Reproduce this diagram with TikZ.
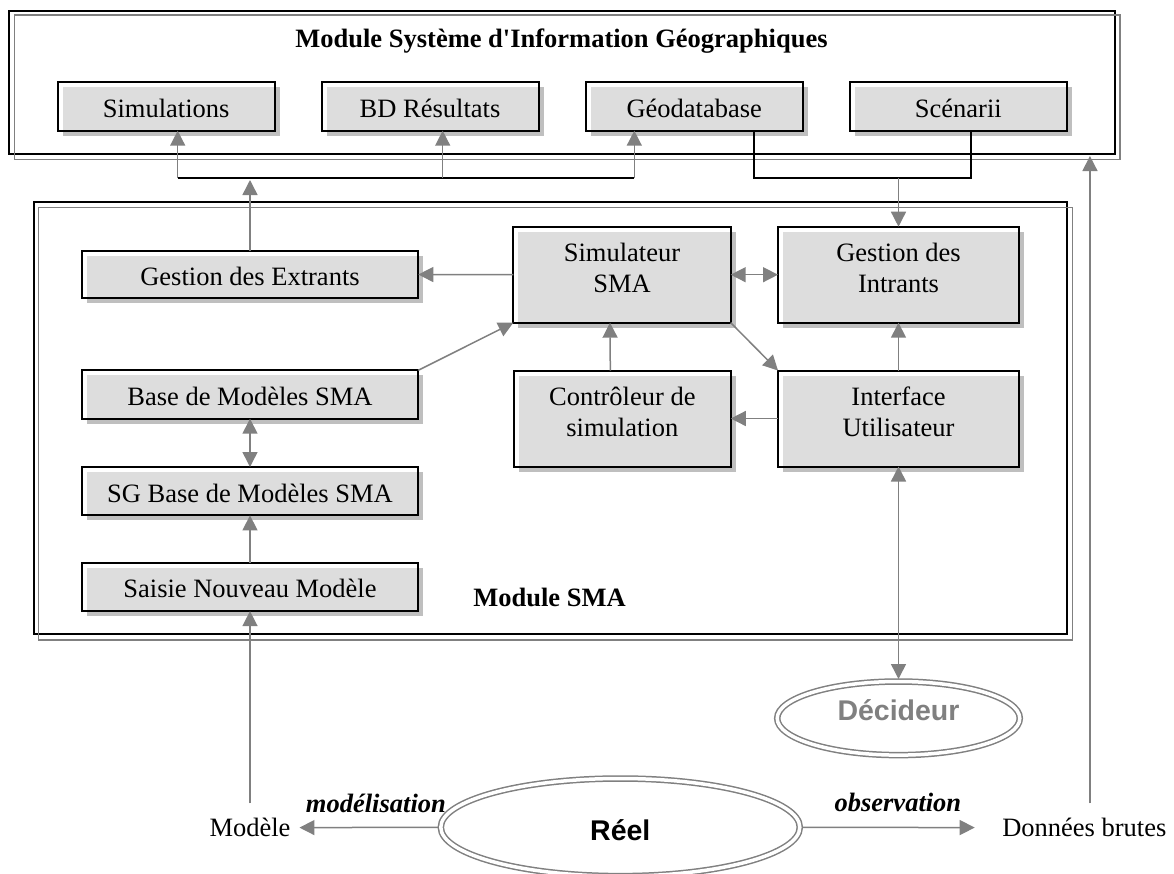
\documentclass[tikz,border=0pt]{standalone}
\usepackage{fontspec}
\setmainfont{Liberation Serif}
\newfontfamily\arialfont{Liberation Sans}
\usetikzlibrary{arrows.meta,shapes.geometric,shadows}
\definecolor{boxgray}{HTML}{DDDDDD}
\definecolor{shadowgray}{HTML}{BFBFBF}
\definecolor{linegray}{HTML}{808080}
\newcommand\straightquote{\XeTeXglyph\XeTeXcharglyph"0027\relax}
\begin{document}
\begin{tikzpicture}[x=1pt,y=-1pt,
  every node/.style={inner sep=0pt, outer sep=0pt},
  txt/.style={font=\fontsize{26.5}{31}\selectfont},
  btxt/.style={font=\fontsize{26.5}{31}\selectfont\bfseries},
  bitxt/.style={font=\fontsize{26.5}{31}\selectfont\bfseries\itshape},
  box/.style={draw=black, line width=2pt, fill=white, align=center,
     font=\fontsize{26.5}{31}\selectfont, text height=22pt, text depth=0pt,
     minimum height=48.4pt,
     general shadow={shadow xshift=5pt, shadow yshift=-5pt, fill=shadowgray, draw=none},
     path picture={\fill[boxgray] ([shift={(5pt,-5pt)}]path picture bounding box.north west) rectangle (path picture bounding box.south east);}},
  twobox/.style={box, text height=36pt, minimum height=96pt},
  outerbox/.style={draw=black, line width=2pt},
  outgray/.style={draw=linegray, line width=1.5pt},
  ell/.style={ellipse, draw=linegray, line width=1.5pt, double=white, double distance=3.5pt, outer sep=2.5pt},
  arr/.style={draw=linegray, line width=1.5pt, -{Triangle[length=15pt,width=15pt]}},
  darr/.style={draw=linegray, line width=1.5pt, {Triangle[length=15pt,width=15pt]}-{Triangle[length=15pt,width=15pt]}},
  bus/.style={draw=black, line width=2pt}
]
\useasboundingbox (0,0) rectangle (1174,873);

% outer modules
\node[outerbox, minimum width=1105.7pt, minimum height=143.3pt] (sig) at (562.15,82.35) {};
\draw[outgray] ([shift={(5,4.5)}]sig.north west) rectangle ([shift={(5,5.5)}]sig.south east);
\node[outerbox, minimum width=1033.6pt, minimum height=432pt] (sma) at (550.5,418.3) {};
\draw[outgray] ([shift={(5,5)}]sma.north west) rectangle ([shift={(5,5.5)}]sma.south east);

\node[btxt, anchor=base] (title) at (561.5,47) {Module Système d\straightquote Information Géographiques};
\node[btxt, anchor=base west] (smalabel) at (473.3,606.7) {Module SMA};

% SIG boxes
\node[box, minimum width=217pt] (sim) at (166.2,106.5) {Simulations};
\node[box, minimum width=217pt] (bdr) at (430,106.5) {BD Résultats};
\node[box, minimum width=217pt] (geo) at (694.2,106.5) {Géodatabase};
\node[box, minimum width=217pt] (scen) at (958.3,106.5) {Scénarii};

% SMA boxes
\node[box, minimum width=336.6pt, minimum height=47.6pt] (ext) at (250,274.5) {Gestion des Extrants};
\node[box, minimum width=336.6pt] (bms) at (250,394.5) {Base de Modèles SMA};
\node[box, minimum width=336.6pt] (sgb) at (250,491.2) {SG Base de Modèles SMA};
\node[box, minimum width=336.6pt] (sai) at (250,586.9) {Saisie Nouveau Modèle};

\node[twobox, minimum width=217.4pt] (simu) at (622,274.7) {Simulateur\\SMA};
\node[twobox, minimum width=241pt] (intr) at (898.5,274.7) {Gestion des\\Intrants};
\node[twobox, minimum width=217pt] (ctrl) at (622.3,418.5) {Contrôleur de\\simulation};
\node[twobox, minimum width=241pt] (iface) at (898.5,418.5) {Interface\\Utilisateur};

% bottom
\node[txt, anchor=base] (mod) at (250,836.7) {Modèle};
\node[txt, anchor=base west] (don) at (1002.3,836.7) {Données brutes};
\node[bitxt, anchor=base] (lmod) at (375.9,812.7) {modélisation};
\node[bitxt, anchor=base] (lobs) at (897.9,811.7) {observation};
\node[ell, minimum width=359pt, minimum height=97.6pt, font=\fontsize{28.5}{30}\selectfont\arialfont\bfseries, text height=25.4pt, text depth=0pt] (reel) at (620.3,827.3) {Réel};
\node[ell, minimum width=242.6pt, minimum height=73.6pt, font=\fontsize{28.5}{30}\selectfont\arialfont\bfseries, text=linegray, text height=12pt, text depth=7.2pt] (dec) at (898.5,718.3) {Décideur};

% buses
\coordinate (busL) at (177.7,178.3);
\coordinate (busM) at (442.7,178.3);
\coordinate (busR) at (634.3,178.3);
\coordinate (busG) at (754.3,178.3);
\coordinate (busS) at (970.7,178.3);
\draw[bus] (busL) -- (busR);
\draw[bus] (busG |- geo.south) -- (busG) -- (busS) -- (busS |- scen.south);
\draw[arr] (busL) -- (busL |- sim.south);
\draw[arr] (busM) -- (busM |- bdr.south);
\draw[arr] (busR) -- (busR |- geo.south);
\draw[arr, shorten >=1.7pt] (ext.north) -- (ext.north |- busL);
\draw[arr] (intr.north |- busG) -- (intr.north);

% SMA connectors
\draw[arr] (simu.west) -- (ext.east);
\draw[darr] (simu.east) -- (intr.west);
\draw[arr] (bms.north east) -- (simu.south west);
\draw[arr] ([xshift=-12pt]ctrl.north) -- ([xshift=-12pt]simu.south);
\draw[arr] (simu.south east) -- (iface.north west);
\draw[arr] (iface.north) -- (intr.south);
\draw[arr] (iface.west) -- (ctrl.east);
\draw[darr] (iface.south) -- (dec.north);
\draw[darr] (bms.south) -- (sgb.north);
\draw[arr] (sai.north) -- (sgb.south);
\draw[arr, shorten <=15pt] (mod.north) -- (sai.south);

% real-world connectors
\draw[arr, shorten >=9pt] (reel.west) -- (mod.east);
\draw[arr, shorten >=27.6pt] (reel.east) -- (don.west);
\draw[arr, shorten <=15pt, shorten >=2pt] ([xshift=5.6pt]don.north) -- ([xshift=5.6pt]don.north |- sig.south);
\end{tikzpicture}
\end{document}
